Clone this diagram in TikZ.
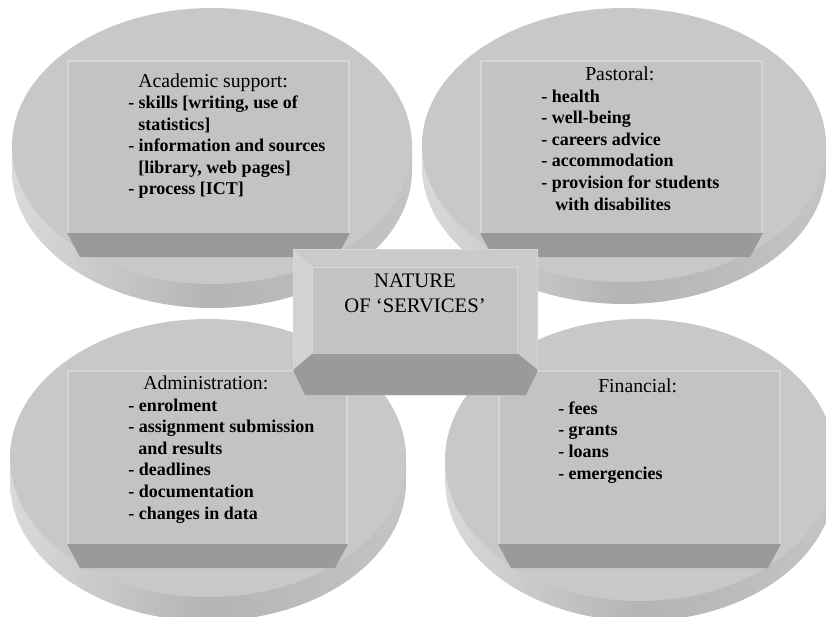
\documentclass[tikz,border=0pt]{standalone}
\usepackage{fontspec}
\setmainfont{Liberation Serif}
\definecolor{discface}{HTML}{C8C8C8}
\definecolor{bandL}{HTML}{DADADA}
\definecolor{bandM}{HTML}{B4B4B4}
\definecolor{bandR}{HTML}{C4C4C4}
\definecolor{boxface}{HTML}{C3C3C3}
\definecolor{boxhi}{HTML}{D6D6D6}
\definecolor{bevdark}{HTML}{9A9A9A}
\definecolor{bevlight}{HTML}{D2D2D2}
\definecolor{bevtop}{HTML}{CACACA}
\newcommand\drawdisc[5]{%
  \shade[left color=bandL, right color=bandR, middle color=bandM] (#1-#3,#2) rectangle (#1+#3,#2+#5);
  \shade[left color=bandL, right color=bandR, middle color=bandM] (#1,#2+#5) ellipse [x radius=#3, y radius=#4];
  \fill[discface] (#1,#2) ellipse [x radius=#3, y radius=#4];
}
\newcommand\drawbox[4]{%
  \fill[bevdark] (#1,#4) -- (#3,#4) -- (#3-13,#4+24) -- (#1+13,#4+24) -- cycle;
  \fill[boxface] (#1,#2) rectangle (#3,#4);
  \draw[boxhi, line width=1.5pt] (#1+1,#4) -- (#1+1,#2+1) -- (#3-1,#2+1) -- (#3-1,#4);
}
\newcommand\hd[1]{{\mdseries\fontsize{14.8}{16.2}\selectfont #1}}
\tikzset{
  txt/.style={anchor=base west, align=left, inner sep=0pt,
    font=\fontsize{13.5}{16.2}\selectfont\bfseries},
}
\begin{document}
\begin{tikzpicture}[x=0.75pt,y=-0.75pt]
\useasboundingbox (0,0) rectangle (826,617);
\clip (0,0) rectangle (826,617);
% discs
\drawdisc{212}{146}{200}{138}{24}
\drawdisc{624}{145}{202}{137}{22}
\drawdisc{208}{458}{198}{139}{24}
\drawdisc{640}{460}{195}{141}{20}
% boxes
\drawbox{67}{60}{350}{233}
\drawbox{480}{60}{763}{233}
\drawbox{67}{370}{348}{544}
\drawbox{498}{370}{781}{544}
% texts (anchored at the baseline of the last line)
\node[txt] (tl) at (128,195) {\hd{\hspace*{7.5pt}Academic support:}\\
- skills [writing, use of\\
\hspace*{7.5pt}statistics]\\
- information and sources\\
\hspace*{7.5pt}[library, web pages]\\
- process [ICT]};
\node[txt] (tr) at (541,210) {\hd{\hspace*{33pt}Pastoral:}\\
- health\\
- well-being\\
- careers advice\\
- accommodation\\
- provision for students\\
\hspace*{10.5pt}with disabilites};
\node[txt] (bl) at (128,519) {\hd{\hspace*{11.25pt}Administration:}\\
- enrolment\\
- assignment submission\\
\hspace*{7.5pt}and results\\
- deadlines\\
- documentation\\
- changes in data};
\node[txt] (br) at (558,479) {\hd{\hspace*{30pt}Financial:}\\
- fees\\
- grants\\
- loans\\
- emergencies};
% centre box
\fill[bevtop] (293,249) -- (538,249) -- (538,370) -- (526,395) -- (305,395) -- (293,370) -- cycle;
\fill[bevlight] (293,249) -- (312,267) -- (312,354) -- (293,370) -- cycle;
\fill[bevdark] (312,354) -- (518,354) -- (538,370) -- (526,395) -- (305,395) -- (293,370) -- cycle;
\fill[boxface] (312,267) rectangle (518,354);
\draw[boxhi, line width=1.2pt] (312.5,354) -- (312.5,267.5) -- (518,267.5);
\draw[boxhi, line width=1.2pt] (517.5,268) -- (517.5,354);
\draw[boxhi, line width=1.2pt] (293.5,370) -- (293.5,249.5) -- (537.5,249.5) -- (537.5,370);
\node[anchor=base, align=center, inner sep=0pt, font=\fontsize{15.5}{18.75}\selectfont] (c) at (415,312) {NATURE\\OF ‘SERVICES’};
\end{tikzpicture}
\end{document}
